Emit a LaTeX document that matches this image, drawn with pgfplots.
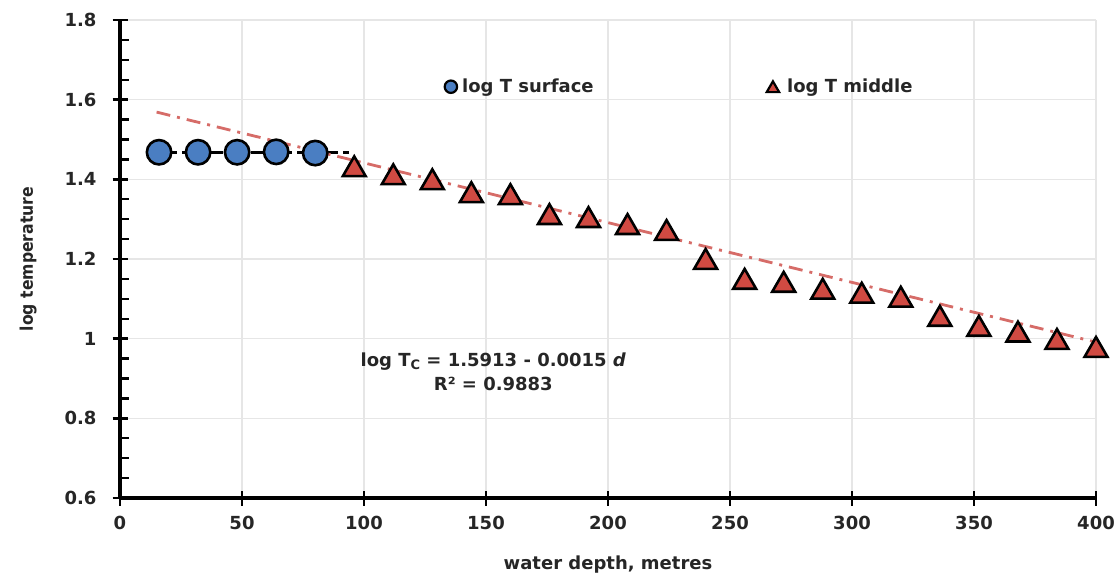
\documentclass[border=0pt]{standalone}
\usepackage{pgfplots}
\pgfplotsset{compat=1.18}
\usepackage{fontspec}
\setmainfont{DejaVu Sans}
\newfontfamily\narrowfont{DejaVu Sans Condensed}
\definecolor{cblue}{HTML}{4A7EC2}
\definecolor{cred}{HTML}{D04A42}
\definecolor{tline}{HTML}{D66C68}
\definecolor{gridc}{HTML}{E6E6E6}
\newcommand{\lf}{\fontsize{9}{11}\selectfont\bfseries}
\begin{document}
\begin{tikzpicture}
\begin{axis}[
  scale only axis, width=488pt, height=239pt,
  xmin=0, xmax=400, ymin=0.6, ymax=1.8,
  axis x line=bottom, axis y line=left,
  axis line style={-, line width=1.6pt, black},
  xtick={0,50,...,400},
  ytick={0.6,0.8,1,1.2,1.4,1.6,1.8},
  minor y tick num=3,
  tick align=center, major tick length=7.5pt, minor tick length=5pt,
  every tick/.style={line width=1.2pt, black},
  every minor tick/.append style={xshift=2pt},
  grid=major, major grid style={line width=0.7pt, color=gridc},
  ticklabel style={font=\lf, text=black!85},
  /pgf/number format/.cd, fixed, precision=1, assume math mode=true,
  /pgfplots/.cd,
  xticklabel style={yshift=-2pt},
  yticklabel style={xshift=-4.5pt},
  xlabel={water depth, metres},
  xlabel style={font=\lf, text=black!85, at={(axis description cs:0.5,-0.14)}, anchor=center},
  ylabel={log temperature},
  ylabel style={font=\narrowfont\fontsize{8.7}{10}\selectfont\bfseries, text=black!85, at={(axis description cs:-0.094,0.5)}, anchor=center},
  legend columns=2,
  legend style={draw=none, fill=none, at={(axis cs:130,1.6325)}, anchor=west,
    font=\lf, text=black!85,
    /tikz/every even column/.append style={column sep=84.5pt},
    cells={anchor=west}},
]
% surface series
\addplot[only marks, mark=*, mark size=6.1pt, line width=1.3pt,
  mark options={fill=cblue, draw=black},
  legend image code/.code={\draw[black, fill=cblue, line width=1.1pt] (0.15cm,0cm) circle (3.1pt);}]
  coordinates {(16,1.468) (32,1.468) (48,1.468) (64,1.469) (80,1.466)};
\addlegendentry{log T surface}
% middle series
\addplot[only marks, mark=triangle*, mark size=6.6pt, line width=1.3pt,
  mark options={fill=cred, draw=black, yshift=-1.6pt},
  legend image code/.code={\draw[mark=triangle*, mark size=3.6pt, line width=1.1pt, mark options={fill=cred, draw=black, yshift=-0.9pt}] plot coordinates {(0.15cm,0cm)};}]
  coordinates {
  (96,1.4325) (112,1.4125) (128,1.400) (144,1.3675) (160,1.3625)
  (176,1.3125) (192,1.305) (208,1.2875) (224,1.2725) (240,1.200)
  (256,1.150) (272,1.1425) (288,1.125) (304,1.115) (320,1.105)
  (336,1.057) (352,1.032) (368,1.0175) (384,0.999) (400,0.979)};
\addlegendentry{\hspace{2pt}log T middle}
% surface trendline (black dashed)
\addplot[forget plot, black, line width=1.3pt, dash pattern=on 9pt off 2.5pt]
  coordinates {(16,1.468) (94,1.468)};
% middle trendline: log Tc = 1.5913 - 0.0015 d
\addplot[forget plot, tline, line width=1.4pt, dash pattern=on 7pt off 3.5pt on 1.5pt off 3.5pt]
  coordinates {(15,1.5688) (401,0.9898)};
\node[font=\lf, text=black!85] at (axis cs:153,0.943)
  {log T\raisebox{-0.35ex}{\fontsize{6.5}{7}\selectfont C} = 1.5913 - 0.0015 \textit{d}};
\node[font=\lf, text=black!85] at (axis cs:153,0.886)
  {R² = 0.9883};
\end{axis}
\pgfresetboundingbox
\path ([shift={(-60pt,-40.5pt)}]current axis.south west) rectangle ([shift={(12pt,10pt)}]current axis.north east);
\end{tikzpicture}
\end{document}
